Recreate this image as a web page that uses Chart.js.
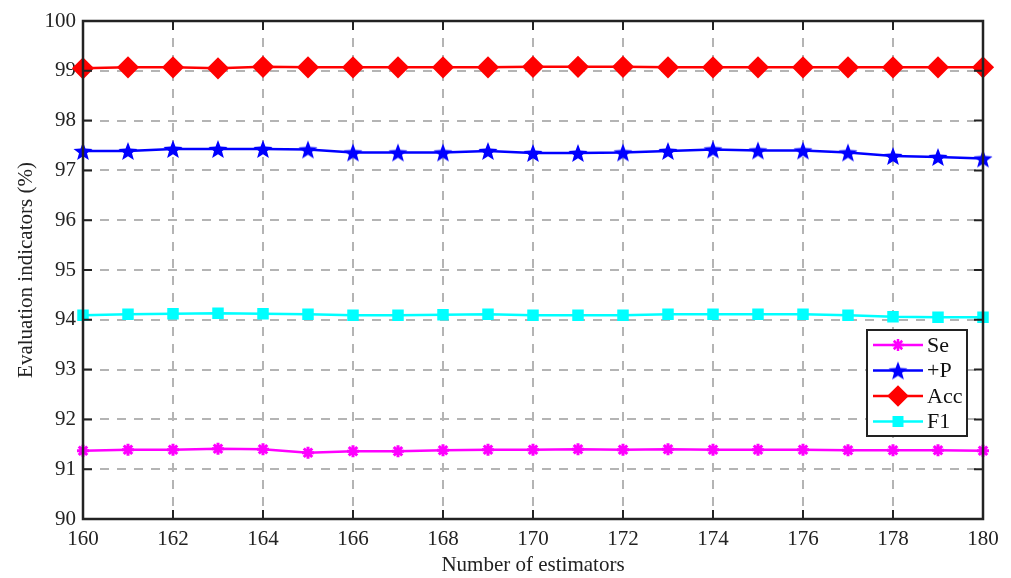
<!DOCTYPE html>
<html>
<head>
<meta charset="utf-8">
<script src="https://cdn.jsdelivr.net/npm/chart.js@4/dist/chart.umd.min.js"></script>
<style>
  html, body { margin: 0; padding: 0; background: #fff; }
  #wrap { width: 1011px; height: 578px; }
</style>
</head>
<body>
<div id="wrap"><canvas id="evalChart" width="1011" height="578"></canvas></div>
<script>
// Number of estimators (x axis)
const estimators = [160, 161, 162, 163, 164, 165, 166, 167, 168, 169, 170,
                    171, 172, 173, 174, 175, 176, 177, 178, 179, 180];

// Values (%)
const seValues  = [91.37, 91.39, 91.39, 91.41, 91.40, 91.33, 91.36, 91.36, 91.38, 91.39, 91.39,
                   91.40, 91.39, 91.40, 91.39, 91.39, 91.39, 91.38, 91.38, 91.38, 91.37];
const ppValues  = [97.39, 97.39, 97.43, 97.43, 97.43, 97.42, 97.36, 97.36, 97.36, 97.39, 97.35,
                   97.35, 97.36, 97.39, 97.42, 97.40, 97.40, 97.36, 97.29, 97.27, 97.24];
const accValues = [99.05, 99.07, 99.07, 99.05, 99.08, 99.07, 99.07, 99.07, 99.07, 99.07, 99.08,
                   99.08, 99.08, 99.07, 99.07, 99.07, 99.07, 99.07, 99.07, 99.07, 99.07];
const f1Values  = [94.09, 94.11, 94.12, 94.13, 94.12, 94.11, 94.09, 94.09, 94.10, 94.11, 94.09,
                   94.09, 94.09, 94.11, 94.11, 94.11, 94.11, 94.09, 94.06, 94.05, 94.05];

const xTicks = [160, 162, 164, 166, 168, 170, 172, 174, 176, 178, 180];
const yTicks = [90, 91, 92, 93, 94, 95, 96, 97, 98, 99, 100];

const FONT = '"Liberation Serif", "Times New Roman", serif';

// Filled five-pointed star for +P
function makeStar(color, r) {
    const c = document.createElement('canvas');
    const size = Math.ceil(r * 2 + 2);
    c.width = size; c.height = size;
    const g = c.getContext('2d');
    g.fillStyle = color;
    g.beginPath();
    for (let i = 0; i < 10; i++) {
        const rad = i % 2 === 0 ? r : r * 0.42;
        const a = -Math.PI / 2 + i * Math.PI / 5;
        const px = size / 2 + rad * Math.cos(a);
        const py = size / 2 + rad * Math.sin(a) + r * 0.1;
        if (i === 0) g.moveTo(px, py); else g.lineTo(px, py);
    }
    g.closePath();
    g.fill();
    return c;
}
const starImg = makeStar('#0000ff', 10);

function toPoints(vals) {
    return estimators.map((x, i) => ({ x: x, y: vals[i] }));
}

const series = [
    { label: 'Se',  data: seValues,  color: '#ff00ff', style: 'star',    radius: 6 },
    { label: '+P',  data: ppValues,  color: '#0000ff', style: starImg,   radius: 10 },
    { label: 'Acc', data: accValues, color: '#ff0000', style: 'rectRot', radius: 9 },
    { label: 'F1',  data: f1Values,  color: '#00ffff', style: 'rect',    radius: 6 }
];

// Box around the plot + inward tick marks
const frameBox = {
    id: 'frameBox',
    afterDatasetsDraw(chart) {
        const { ctx, chartArea: a, scales } = chart;
        ctx.save();
        ctx.strokeStyle = '#222';
        ctx.lineWidth = 2;
        ctx.beginPath();
        xTicks.forEach(v => {
            const px = scales.x.getPixelForValue(v);
            ctx.moveTo(px, a.bottom); ctx.lineTo(px, a.bottom - 9);
            ctx.moveTo(px, a.top); ctx.lineTo(px, a.top + 9);
        });
        yTicks.forEach(v => {
            const py = scales.y.getPixelForValue(v);
            ctx.moveTo(a.left, py); ctx.lineTo(a.left + 9, py);
            ctx.moveTo(a.right, py); ctx.lineTo(a.right - 9, py);
        });
        ctx.stroke();
        ctx.lineWidth = 2.5;
        ctx.strokeRect(a.left, a.top, a.right - a.left, a.bottom - a.top);
        ctx.restore();
    },
    afterDraw(chart) {
        // legend in the lower right, like the MATLAB one
        const ctx = chart.ctx;
        const bx = 867, by = 330, bw = 100, bh = 106;
        ctx.save();
        ctx.fillStyle = '#fff';
        ctx.fillRect(bx, by, bw, bh);
        ctx.strokeStyle = '#222';
        ctx.lineWidth = 2;
        ctx.strokeRect(bx, by, bw, bh);
        ctx.font = '22px ' + FONT;
        ctx.textBaseline = 'middle';
        series.forEach((s, i) => {
            const y = by + 15 + i * 25.5;
            ctx.strokeStyle = s.color;
            ctx.lineWidth = 2.5;
            ctx.beginPath();
            ctx.moveTo(bx + 6, y); ctx.lineTo(bx + 56, y);
            ctx.stroke();
            ctx.fillStyle = s.color;
            Chart.helpers.drawPoint(ctx, {
                pointStyle: s.style, radius: s.radius, borderWidth: 3, rotation: 0
            }, bx + 31, y);
            ctx.fillStyle = '#111';
            ctx.fillText(s.label, bx + 60, y + 1);
        });
        ctx.restore();
    }
};

const ctx = document.getElementById('evalChart').getContext('2d');
new Chart(ctx, {
    type: 'line',
    data: {
        datasets: series.map(s => ({
            label: s.label,
            data: toPoints(s.data),
            borderColor: s.color,
            backgroundColor: s.color,
            borderWidth: 2.5,
            pointStyle: s.style,
            pointRadius: s.radius,
            pointBorderWidth: 3,
            pointBorderColor: s.color,
            pointBackgroundColor: s.color,
            tension: 0,
            clip: false
        }))
    },
    options: {
        responsive: false,
        animation: false,
        layout: { padding: { top: 21, right: 28, left: 14, bottom: 0 } },
        plugins: {
            legend: { display: false },
            tooltip: { enabled: false }
        },
        scales: {
            x: {
                type: 'linear',
                min: 160, max: 180,
                afterBuildTicks(scale) { scale.ticks = xTicks.map(v => ({ value: v })); },
                afterFit(scale) { scale.height = 59; },
                ticks: { color: '#222', font: { family: FONT, size: 21 }, padding: 8, maxRotation: 0 },
                grid: { color: '#b4b4b4', lineWidth: 2, drawTicks: false },
                border: { display: false, dash: [9, 8] },
                title: {
                    display: true, text: 'Number of estimators', color: '#222',
                    font: { family: FONT, size: 21 }, padding: { top: 0, bottom: 0 }
                }
            },
            y: {
                min: 90, max: 100,
                afterBuildTicks(scale) { scale.ticks = yTicks.map(v => ({ value: v })); },
                afterFit(scale) { scale.width = 69; },
                ticks: { color: '#222', font: { family: FONT, size: 21 }, padding: 7 },
                grid: { color: '#b4b4b4', lineWidth: 2, drawTicks: false },
                border: { display: false, dash: [9, 8] },
                title: {
                    display: true, text: 'Evaluation indicators (%)', color: '#222',
                    font: { family: FONT, size: 21 }, padding: { top: 0, bottom: 0 }
                }
            }
        }
    },
    plugins: [frameBox]
});
</script>
</body>
</html>
